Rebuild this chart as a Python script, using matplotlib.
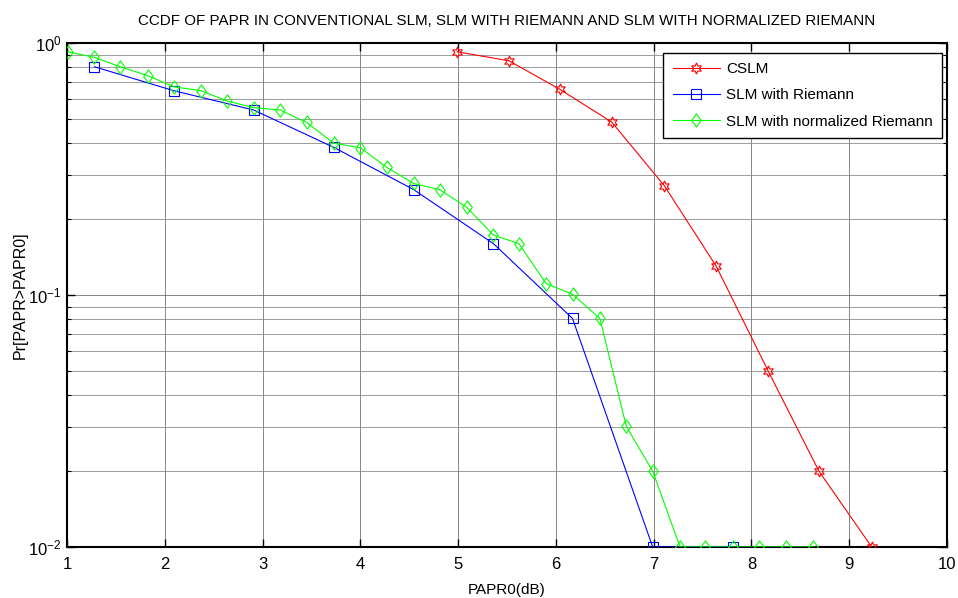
import matplotlib
matplotlib.use("Agg")
import matplotlib.pyplot as plt
from matplotlib.path import Path
from matplotlib.ticker import FixedLocator, FixedFormatter
import numpy as np

plt.rcParams['font.family'] = ['Liberation Sans', 'DejaVu Sans']
plt.rcParams['mathtext.fontset'] = 'custom'
plt.rcParams['mathtext.rm'] = 'Liberation Sans'
plt.rcParams['mathtext.it'] = 'Liberation Sans'
plt.rcParams['axes.unicode_minus'] = False

# ---- data ----
cslm_x = [4.99, 5.52, 6.04, 6.57, 7.11, 7.64, 8.17, 8.69, 9.23]
cslm_y = [0.923, 0.85, 0.655, 0.486, 0.271, 0.13, 0.05, 0.02, 0.01]

riem_x = [1.28, 2.09, 2.91, 3.73, 4.545, 5.36, 6.17, 6.99, 7.81]
riem_y = [0.805, 0.647, 0.542, 0.385, 0.262, 0.160, 0.0807, 0.01, 0.01]

norm_x = [1.01, 1.28, 1.545, 1.825, 2.094, 2.37, 2.64, 2.91, 3.18, 3.45,
          3.73, 4.0, 4.27, 4.545, 4.81, 5.09, 5.36, 5.62, 5.90, 6.17,
          6.45, 6.72, 6.99, 7.27, 7.53, 7.81, 8.08, 8.35, 8.63]
norm_y = [0.923, 0.877, 0.805, 0.742, 0.67, 0.647, 0.588, 0.554, 0.542, 0.484,
          0.40, 0.384, 0.321, 0.277, 0.262, 0.2226, 0.173, 0.160, 0.111, 0.1007,
          0.0807, 0.0301, 0.020, 0.01, 0.01, 0.01, 0.01, 0.01, 0.01]

labels = ['CSLM', 'SLM with Riemann', 'SLM with normalized Riemann']
x_ticks = [1, 2, 3, 4, 5, 6, 7, 8, 9, 10]
y_ticks = [0.01, 0.1, 1]
y_tick_labels = [r'$\mathregular{10^{-2}}$', r'$\mathregular{10^{-1}}$', r'$\mathregular{10^{0}}$']
title = 'CCDF OF PAPR IN CONVENTIONAL SLM, SLM WITH RIEMANN AND SLM WITH NORMALIZED RIEMANN'

# ---- figure ----
fig = plt.figure(figsize=(9.58, 5.98), dpi=100)
ax = fig.add_axes([67/958, 1-547/598, (947-67)/958, (547-43)/598])

diamond = Path([(0, 1), (0.72, 0), (0, -1), (-0.72, 0), (0, 1)],
               [Path.MOVETO, Path.LINETO, Path.LINETO, Path.LINETO, Path.CLOSEPOLY])
hexagram = (6, 1, 0)

ax.plot(cslm_x, cslm_y, color='#ff0000', lw=0.8, marker=hexagram, ms=8,
        mfc='none', mec='#ff0000', mew=0.8, label=labels[0], zorder=3)
ax.plot(riem_x, riem_y, color='#0000ff', lw=0.8, marker='s', ms=7,
        mfc='none', mec='#0000ff', mew=0.8, label=labels[1], zorder=3)
ax.plot(norm_x, norm_y, color='#00ff00', lw=0.8, marker=diamond, ms=9.5,
        mfc='none', mec='#00ff00', mew=0.8, label=labels[2], zorder=3)

ax.set_yscale('log')
ax.set_xlim(1, 10)
ax.set_ylim(0.01, 1)
ax.set_xticks(x_ticks)
ax.set_xticklabels([str(t) for t in x_ticks])
ax.yaxis.set_major_locator(FixedLocator(y_ticks))
ax.yaxis.set_major_formatter(FixedFormatter(y_tick_labels))

ax.grid(True, which='major', axis='both', color='0.45', lw=0.6, ls='-')
ax.grid(True, which='minor', axis='y', color='0.55', lw=0.6, ls='-')

ax.tick_params(which='both', direction='in', top=True, right=True)
ax.tick_params(axis='x', which='major', labelsize=12, pad=7)
ax.tick_params(axis='y', which='major', labelsize=12, pad=4)
ax.tick_params(which='major', length=6, width=1)
ax.tick_params(which='minor', length=3, width=0.8)
for s in ax.spines.values():
    s.set_linewidth(1.5)
    s.set_color('black')

ax.set_title(title, fontsize=10.9, pad=13)
ax.set_xlabel('PAPR0(dB)', fontsize=11, labelpad=8)
ax.set_ylabel('Pr[PAPR>PAPR0]', fontsize=11.5, labelpad=0)

leg = ax.legend(loc='upper right', bbox_to_anchor=(0.9943, 0.9802), borderaxespad=0,
                fontsize=11, fancybox=False, framealpha=1, edgecolor='black',
                handlelength=3.1, handletextpad=0.4, borderpad=0.6,
                labelspacing=0.8)
leg.get_frame().set_linewidth(1.0)

fig.savefig('out.png', dpi=100)
